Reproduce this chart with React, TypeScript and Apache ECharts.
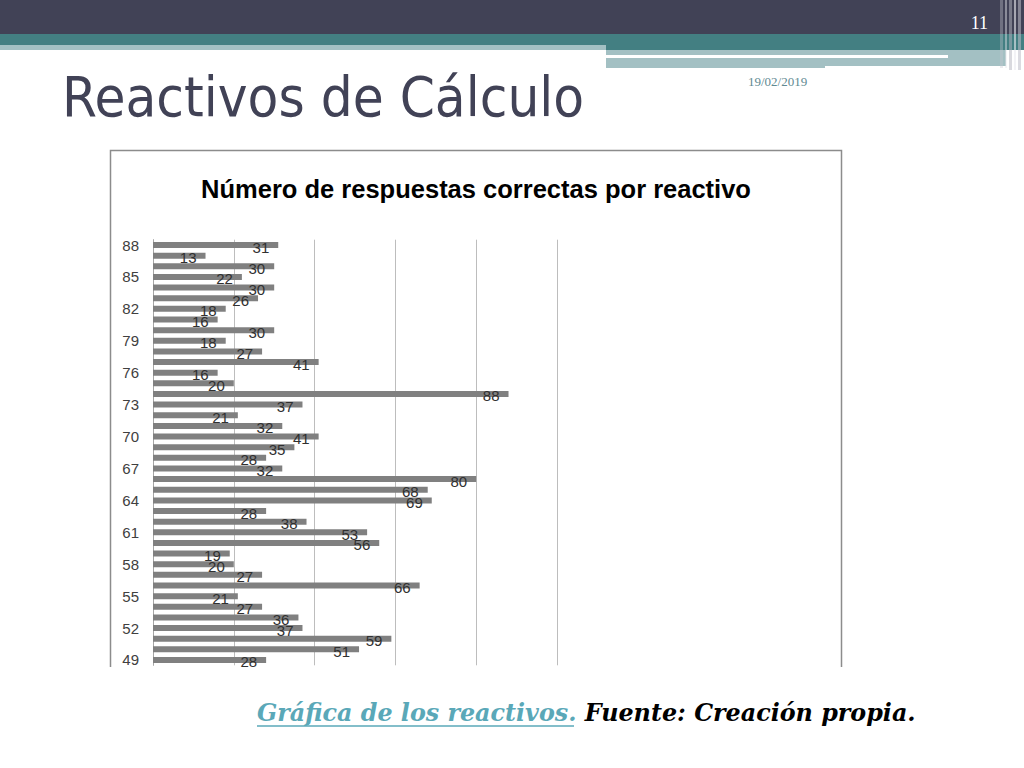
import { useEffect, useRef } from "react";
import * as echarts from "echarts";

// reactivos, de arriba hacia abajo
const reactivos = [
  "88", "87", "86", "85", "84", "83", "82", "81", "80", "79",
  "78", "77", "76", "75", "74", "73", "72", "71", "70", "69",
  "68", "67", "66", "65", "64", "63", "62", "61", "60", "59",
  "58", "57", "56", "55", "54", "53", "52", "51", "50", "49",
];

// número de respuestas correctas
const correctas = [
  31, 13, 30, 22, 30, 26, 18, 16, 30, 18,
  27, 41, 16, 20, 88, 37, 21, 32, 41, 35,
  28, 32, 80, 68, 69, 28, 38, 53, 56, 19,
  20, 27, 66, 21, 27, 36, 37, 59, 51, 28,
];

const slideTitle = "Reactivos de Cálculo";
const chartTitle = "Número de respuestas correctas por reactivo";
const fecha = "19/02/2019";
const pagina = "11";
const captionLink = "Gráfica de los reactivos.";
const captionRest = " Fuente: Creación propia.";

export default function App() {
  const ref = useRef<HTMLDivElement | null>(null);

  useEffect(() => {
    if (!ref.current) return;
    const chart = echarts.init(ref.current, null, { renderer: "svg" });

    const option: echarts.EChartsOption = {
      animation: false,
      backgroundColor: "#ffffff",
      grid: { left: 153, top: 239.7, width: 404, height: 425.6 },
      xAxis: {
        type: "value",
        min: 0,
        max: 100,
        interval: 20,
        axisLabel: { show: false },
        axisLine: { show: false },
        axisTick: { show: false },
        splitLine: { lineStyle: { color: "#bdbdbd", width: 1 } },
      },
      yAxis: {
        type: "category",
        inverse: true,
        data: reactivos,
        axisLine: { show: true, lineStyle: { color: "#a6a6a6" } },
        axisTick: { show: false },
        axisLabel: {
          interval: 2,
          color: "#404040",
          fontSize: 15,
          fontFamily: "Liberation Sans",
          margin: 14,
        },
      },
      series: [
        {
          type: "bar",
          data: correctas,
          barWidth: 6,
          itemStyle: { color: "#808080" },
          label: {
            show: true,
            position: "insideRight",
            distance: 9,
            offset: [0, 2],
            color: "#303030",
            fontSize: 15,
            fontFamily: "Liberation Sans",
          },
        },
      ],
      graphic: [
        // cabecera
        { type: "rect", shape: { x: 0, y: 0, width: 1024, height: 34 }, style: { fill: "#414256" } },
        { type: "rect", shape: { x: 0, y: 34, width: 1024, height: 11 }, style: { fill: "#437f82" } },
        { type: "rect", shape: { x: 0, y: 45, width: 606, height: 5 }, style: { fill: "#a3c0c3" } },
        { type: "rect", shape: { x: 606, y: 45, width: 418, height: 5 }, style: { fill: "#437f82" } },
        { type: "rect", shape: { x: 606, y: 50, width: 400, height: 18 }, style: { fill: "#a3c0c3" } },
        { type: "rect", shape: { x: 606, y: 55, width: 342, height: 3 }, style: { fill: "#ffffff" } },
        { type: "rect", shape: { x: 825, y: 66, width: 181, height: 2 }, style: { fill: "#ffffff" } },
        { type: "rect", shape: { x: 1000, y: 0, width: 3, height: 68 }, style: { fill: "rgba(200,200,210,0.35)" } },
        { type: "rect", shape: { x: 1005, y: 0, width: 2, height: 68 }, style: { fill: "rgba(230,230,235,0.45)" } },
        { type: "rect", shape: { x: 1009, y: 0, width: 3, height: 70 }, style: { fill: "rgba(180,180,190,0.5)" } },
        { type: "rect", shape: { x: 1014, y: 0, width: 2, height: 70 }, style: { fill: "rgba(235,235,240,0.6)" } },
        { type: "rect", shape: { x: 1018, y: 0, width: 3, height: 70 }, style: { fill: "rgba(190,190,200,0.55)" } },
        {
          type: "text",
          x: 988,
          y: 23,
          style: {
            text: pagina,
            fill: "#ffffff",
            fontSize: 18,
            fontFamily: "Liberation Serif",
            align: "right",
            verticalAlign: "middle",
          },
        },
        {
          type: "text",
          x: 62,
          y: 96,
          style: {
            text: slideTitle,
            fill: "#414256",
            fontSize: 56,
            fontFamily: "DejaVu Sans Condensed, DejaVu Sans",
            verticalAlign: "middle",
          },
        },
        {
          type: "text",
          x: 748,
          y: 81,
          style: {
            text: fecha,
            fill: "#5f8a92",
            fontSize: 13,
            fontFamily: "Liberation Serif",
            verticalAlign: "middle",
          },
        },
        // marco del gráfico
        {
          type: "polyline",
          shape: { points: [[110.5, 667], [110.5, 150.5], [841.5, 150.5], [841.5, 667]] },
          style: { stroke: "#8c8c8c", lineWidth: 1.5, fill: "none" },
        },
        {
          type: "text",
          x: 476,
          y: 189,
          style: {
            text: chartTitle,
            fill: "#000000",
            fontSize: 25.5,
            fontWeight: "bold",
            fontFamily: "Liberation Sans",
            align: "center",
            verticalAlign: "middle",
          },
        },
        // el gráfico está recortado en la parte inferior
        { type: "rect", shape: { x: 0, y: 667, width: 1024, height: 101 }, style: { fill: "#ffffff" }, z: 100 },
        {
          type: "text",
          x: 257,
          y: 713,
          z: 101,
          style: {
            text: `{a|${captionLink}}{b|${captionRest}}`,
            verticalAlign: "middle",
            rich: {
              a: {
                fill: "#5aa8b8",
                fontSize: 23.8,
                fontWeight: "bold",
                fontStyle: "italic",
                fontFamily: "DejaVu Serif",
              },
              b: {
                fill: "#000000",
                fontSize: 23.8,
                fontWeight: "bold",
                fontStyle: "italic",
                fontFamily: "DejaVu Serif",
              },
            },
          },
        },
        {
          type: "line",
          z: 101,
          shape: { x1: 257, y1: 726, x2: 574, y2: 726 },
          style: { stroke: "#5aa8b8", lineWidth: 1.5 },
        },
      ],
    };

    chart.setOption(option);
    return () => chart.dispose();
  }, []);

  return (
    <div
      ref={ref}
      style={{ position: "fixed", left: 0, top: 0, width: 1024, height: 768 }}
    />
  );
}
